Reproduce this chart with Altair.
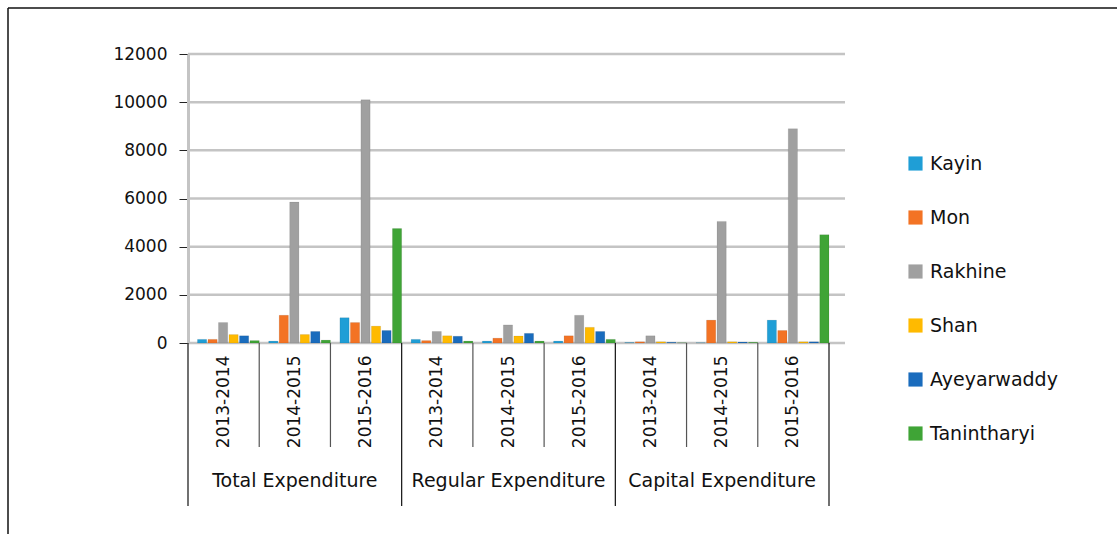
import altair as alt
import pandas as pd

groups = ["Total Expenditure", "Regular Expenditure", "Capital Expenditure"]
years = ["2013-2014", "2014-2015", "2015-2016"]
regions = ["Kayin", "Mon", "Rakhine", "Shan", "Ayeyarwaddy", "Tanintharyi"]
colors = ["#1F9ED6", "#F37324", "#A0A0A0", "#FFBA00", "#1A6CBD", "#3FA436"]
y_ticks = [0, 2000, 4000, 6000, 8000, 10000, 12000]

# values per region, ordered Total(3 years), Regular(3 years), Capital(3 years)
kayin = [150, 80, 1050, 150, 80, 80, 20, 10, 950]
mon = [150, 1150, 850, 100, 200, 300, 50, 950, 520]
rakhine = [850, 5850, 10100, 480, 750, 1150, 300, 5050, 8900]
shan = [350, 350, 700, 300, 290, 650, 50, 50, 50]
ayeyarwaddy = [300, 480, 520, 280, 400, 480, 30, 40, 50]
tanintharyi = [100, 120, 4750, 80, 80, 150, 10, 30, 4500]

series = [kayin, mon, rakhine, shan, ayeyarwaddy, tanintharyi]
keys = [g + "|" + y for g in groups for y in years]

rows = []
for r, vals in zip(regions, series):
    for k, v in zip(keys, vals):
        rows.append({"key": k, "region": r, "value": v})
df = pd.DataFrame(rows)

W, H = 657, 289
XR = 641

xscale = alt.Scale(domain=keys, range=[0, XR], paddingInner=0, paddingOuter=0)
yscale = alt.Scale(domain=[0, 12000])
FONT = "DejaVu Sans"

yaxis = alt.Axis(title=None, values=y_ticks, format="d",
                 labelFontSize=17, labelFont=FONT, labelColor="#111",
                 tickColor="#222", tickSize=9, labelPadding=12,
                 domainColor="#c4c4c4", domainWidth=3, grid=False)

grid = alt.Chart(pd.DataFrame({"v": y_ticks})).mark_rule(
    color="#c4c4c4", strokeWidth=2.5).encode(
    y=alt.Y("v:Q", scale=yscale, axis=yaxis),
    x=alt.value(0), x2=alt.value(W))

bars = alt.Chart(df).mark_bar(stroke="#00000022", strokeWidth=0.6).encode(
    x=alt.X("key:N", scale=xscale, sort=keys,
            axis=alt.Axis(title=None, labelExpr="split(datum.label, '|')[1]",
                          labelAngle=270, labelFontSize=17, labelFont=FONT,
                          labelColor="#111", ticks=False, domain=False,
                          labelPadding=12, grid=False)),
    xOffset=alt.XOffset("region:N", sort=regions,
                        scale=alt.Scale(paddingInner=0.12, paddingOuter=0.45, align=1)),
    y=alt.Y("value:Q", scale=yscale, axis=yaxis),
    color=alt.Color("region:N", sort=regions,
                    scale=alt.Scale(domain=regions, range=colors),
                    legend=alt.Legend(title=None, orient="none", legendX=718, legendY=100,
                                      symbolType="square", symbolSize=200,
                                      symbolStrokeWidth=0, labelFontSize=19,
                                      labelFont=FONT, labelColor="#111",
                                      rowPadding=34, labelOffset=5)),
)

year_sep_keys = [g + "|" + y for g in groups for y in years[1:]]
year_sep = alt.Chart(pd.DataFrame({"key": year_sep_keys})).mark_rule(
    color="#555", strokeWidth=1.2).encode(
    x=alt.X("key:N", scale=xscale, bandPosition=0),
    y=alt.value(H), y2=alt.value(H + 104))

group_start = alt.Chart(pd.DataFrame({"key": [g + "|" + years[0] for g in groups]})).mark_rule(
    color="#111", strokeWidth=1.2).encode(
    x=alt.X("key:N", scale=xscale, bandPosition=0),
    y=alt.value(H), y2=alt.value(H + 163))

group_end = alt.Chart(pd.DataFrame({"key": [groups[-1] + "|" + years[-1]]})).mark_rule(
    color="#111", strokeWidth=1.2).encode(
    x=alt.X("key:N", scale=xscale, bandPosition=1),
    y=alt.value(H), y2=alt.value(H + 163))

group_labels = alt.Chart(pd.DataFrame({"key": [g + "|" + years[1] for g in groups],
                                       "label": groups})).mark_text(
    fontSize=19, font=FONT, color="#111", baseline="middle").encode(
    x=alt.X("key:N", scale=xscale),
    y=alt.value(H + 138),
    text="label:N")

frame_top = alt.Chart(pd.DataFrame({"a": [0]})).mark_rule(color="#111", strokeWidth=1.5).encode(
    x=alt.value(-180), x2=alt.value(1117 - 188 + 10), y=alt.value(-46))
frame_left = alt.Chart(pd.DataFrame({"a": [0]})).mark_rule(color="#111", strokeWidth=1.5).encode(
    x=alt.value(-180), y=alt.value(-46), y2=alt.value(534 - 54 + 10))

chart = alt.layer(grid, bars, year_sep, group_start, group_end, group_labels,
                  frame_top, frame_left).properties(
    width=W, height=H,
    autosize=alt.AutoSizeParams(type="none"),
    padding={"left": 188, "top": 54, "right": 1117 - 188 - W, "bottom": 534 - 54 - H},
    background="white",
).configure_view(stroke=None)

chart.save("out.html", embed_options={"renderer": "svg", "actions": False})
